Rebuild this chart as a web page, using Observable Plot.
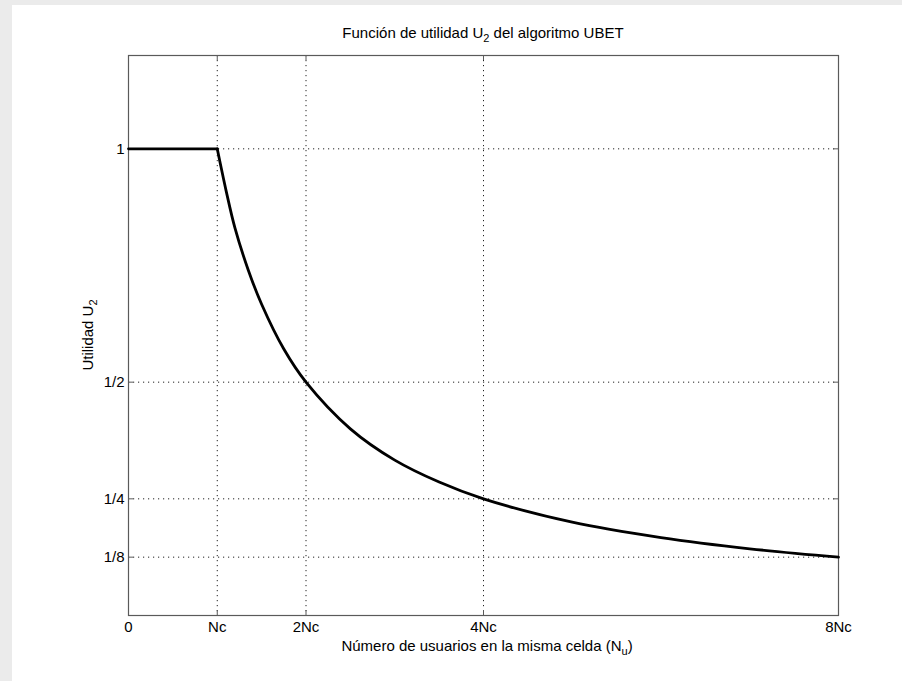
<!DOCTYPE html>
<html>
<head>
<meta charset="utf-8">
<script src="https://cdn.jsdelivr.net/npm/d3@7"></script>
<script src="https://cdn.jsdelivr.net/npm/@observablehq/plot@0.6"></script>
<style>
  html, body { margin: 0; padding: 0; background: #ebebeb; width: 902px; height: 681px; overflow: hidden; }
  #panel { position: absolute; left: 12px; top: 5px; width: 890px; height: 676px; background: #fff; }
  #panel svg { display: block; }
</style>
</head>
<body>
<div id="panel"></div>
<script>
// Data (x in units of Nc)
const flatX = [0, 1];
const flatY = [1, 1];
const decayX = [1, 1.1, 1.2, 1.35, 1.5, 1.75, 2, 2.5, 3, 3.5, 4, 5, 6, 7, 8];
const decayY = [1, 0.91, 0.83, 0.74, 0.667, 0.571, 0.5, 0.4, 0.333, 0.286, 0.25, 0.2, 0.167, 0.143, 0.125];
const xTicks = [0, 1, 2, 4, 8];
const xTickLabels = ["0", "Nc", "2Nc", "4Nc", "8Nc"];
const yTicks = [0.125, 0.25, 0.5, 1];
const yTickLabels = ["1/8", "1/4", "1/2", "1"];
const xGrid = [1, 2, 4];
const yGrid = [0.125, 0.25, 0.5, 1];

const flat = flatX.map((x, i) => ({x, y: flatY[i]}));
const decay = decayX.map((x, i) => ({x, y: decayY[i]}));

const W = 890, H = 676;
const mL = 116, mR = 64, mT = 50, mB = 66;
const innerH = H - mT - mB, innerW = W - mL - mR;
const tk = 5;
const frameColor = "#5a5a5a";
const font = "'Liberation Sans', Arial, Helvetica, sans-serif";
const fs = 15;

const chart = Plot.plot({
  width: W, height: H,
  marginLeft: mL, marginRight: mR, marginTop: mT, marginBottom: mB,
  style: {fontFamily: font, fontSize: fs + "px", color: "#000", background: "#fff"},
  x: {domain: [0, 8], label: null},
  y: {domain: [0, 1.2], label: null},
  marks: [
    Plot.ruleX(xGrid, {x: d => d, stroke: "#222", strokeDasharray: "1.2,3.8", strokeWidth: 1}),
    Plot.ruleY(yGrid, {y: d => d, stroke: "#222", strokeDasharray: "1.2,3.8", strokeWidth: 1}),
    // inward ticks, bottom / top / left / right
    Plot.ruleX(xTicks, {x: d => d, insetTop: innerH - tk, stroke: frameColor}),
    Plot.ruleX(xTicks, {x: d => d, insetBottom: innerH - tk, stroke: frameColor}),
    Plot.ruleY(yTicks, {y: d => d, insetRight: innerW - tk, stroke: frameColor}),
    Plot.ruleY(yTicks, {y: d => d, insetLeft: innerW - tk, stroke: frameColor}),
    Plot.frame({stroke: frameColor, strokeWidth: 1.2}),
    Plot.line(flat, {x: "x", y: "y", stroke: "#000", strokeWidth: 2.8}),
    Plot.line(decay, {x: "x", y: "y", stroke: "#000", strokeWidth: 2.8, curve: "catmull-rom"}),
    Plot.axisX(xTicks, {tickSize: 0, tickPadding: 6, tickFormat: (d, i) => xTickLabels[i], fontSize: fs, label: null}),
    Plot.axisY(yTicks, {tickSize: 0, tickPadding: 4, tickFormat: (d, i) => yTickLabels[i], fontSize: fs, label: null})
  ]
});

const svg = d3.select(chart);
const cx = mL + innerW / 2;
// Title
const t = svg.append("text").attr("x", cx).attr("y", 33).attr("text-anchor", "middle")
  .attr("font-family", font).attr("font-size", fs).attr("fill", "#000");
t.append("tspan").text("Función de utilidad U");
t.append("tspan").attr("font-size", 11).attr("dy", 4).text("2");
t.append("tspan").attr("dy", -4).text(" del algoritmo UBET");
// X label
const xl = svg.append("text").attr("x", cx + 4).attr("y", 646).attr("text-anchor", "middle")
  .attr("font-family", font).attr("font-size", fs).attr("fill", "#000");
xl.append("tspan").text("Número de usuarios en la misma celda (N");
xl.append("tspan").attr("font-size", 11).attr("dy", 4).text("u");
xl.append("tspan").attr("dy", -4).text(")");
// Y label
const yl = svg.append("text").attr("transform", `translate(${93 - 12},${mT + innerH / 2}) rotate(-90)`)
  .attr("text-anchor", "middle").attr("font-family", font).attr("font-size", fs).attr("fill", "#000");
yl.append("tspan").text("Utilidad U");
yl.append("tspan").attr("font-size", 11).attr("dy", 4).text("2");

document.getElementById("panel").appendChild(chart);
</script>
</body>
</html>
